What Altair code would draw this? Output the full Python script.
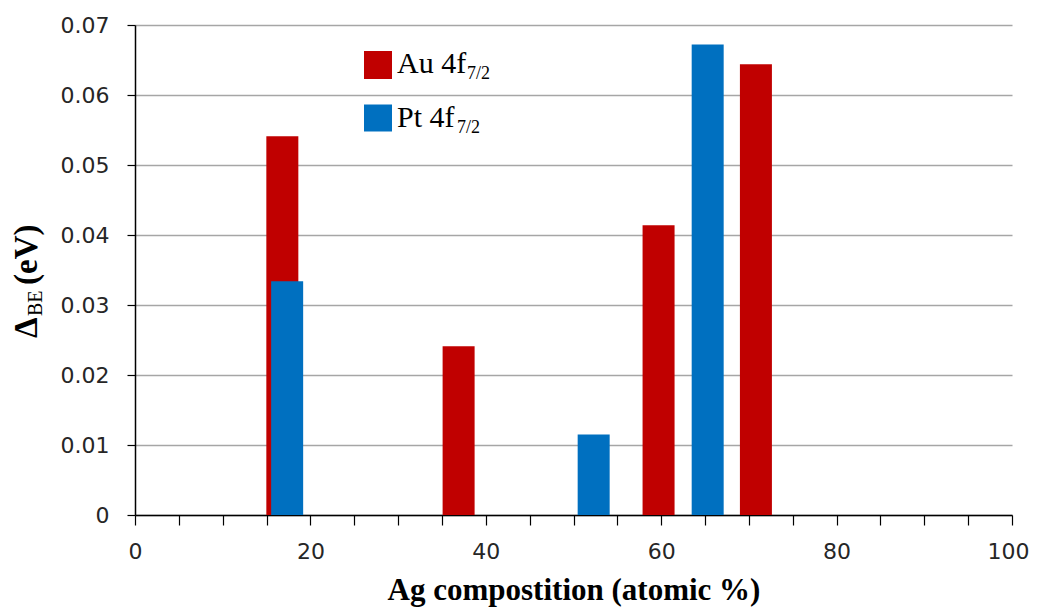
import altair as alt
import pandas as pd

# Data
au_x = [16.8, 36.9, 59.7, 70.8]
au_y = [0.0541, 0.0241, 0.0414, 0.0644]
pt_x = [17.35, 52.3, 65.3]
pt_y = [0.0334, 0.0115, 0.0672]
x_ticks = list(range(0, 101, 5))
y_ticks = [0, 0.01, 0.02, 0.03, 0.04, 0.05, 0.06, 0.07]

au = pd.DataFrame({"x": au_x, "y": au_y})
pt = pd.DataFrame({"x": pt_x, "y": pt_y})

RED = "#C00000"
BLUE = "#0070C0"

x_enc = alt.X(
    "x:Q",
    scale=alt.Scale(domain=[0, 100], nice=False, padding=0),
    axis=alt.Axis(
        values=x_ticks,
        labelExpr="datum.value % 20 == 0 ? datum.label : ''",
        labelFlush=False,
        labelOffset={"condition": {"test": "datum.value == 100", "value": -4}, "value": 0},
        grid=False,
        tickSize=10,
        tickWidth=1.2,
        tickColor="black",
        domainColor="black",
        domainWidth=1.5,
        labelFont="DejaVu Sans",
        labelFontSize=22,
        labelColor="#262626",
        labelPadding=16,
        title="Ag compostition (atomic %)",
        titleFont="Liberation Serif",
        titleFontSize=31,
        titleFontWeight="bold",
        titleColor="black",
        titlePadding=13,
    ),
)
y_enc = alt.Y(
    "y:Q",
    scale=alt.Scale(domain=[0, 0.07], nice=False, padding=0),
    axis=alt.Axis(
        values=y_ticks,
        labelExpr="datum.value == 0 ? '0' : format(datum.value, '.2f')",
        labelFlush=False,
        grid=True,
        gridColor="#a6a6a6",
        gridWidth=1.5,
        tickSize=8,
        tickWidth=1.2,
        tickColor="black",
        domainColor="black",
        domainWidth=1.5,
        labelFont="DejaVu Sans",
        labelFontSize=22,
        labelColor="#262626",
        labelPadding=18,
        title=None,
    ),
)

au_bars = alt.Chart(au).mark_bar(size=32, color=RED).encode(x=x_enc, y=y_enc)
pt_bars = alt.Chart(pt).mark_bar(size=32, color=BLUE).encode(x=x_enc, y=y_enc)

one = pd.DataFrame({"k": [0]})

def txt(text, x, y, size, weight="normal", angle=0):
    return alt.Chart(one).mark_text(
        text=text, align="left", baseline="alphabetic", font="Liberation Serif",
        fontSize=size, fontWeight=weight, color="black", angle=angle,
    ).encode(x=alt.value(x), y=alt.value(y))

def square(color, y0, y1):
    return alt.Chart(one).mark_rect(color=color).encode(
        x=alt.value(229), x2=alt.value(257), y=alt.value(y0), y2=alt.value(y1)
    )

legend = [
    square(RED, 26, 54),
    txt("Au 4f", 262, 48, 30),
    txt("7/2", 332, 54, 18),
    square(BLUE, 79.5, 106.5),
    txt("Pt 4f", 262, 102, 30),
    txt("7/2", 322, 108, 18),
]

ytitle = [
    txt("Δ", -98, 313, 33, "bold", 270),
    txt("BE", -93, 291, 20, "normal", 270),
    txt("(eV)", -98, 260, 33, "bold", 270),
]

chart = alt.layer(au_bars, pt_bars, *legend, *ytitle).properties(
    width=877,
    height=490,
    autosize=alt.AutoSizeParams(type="none"),
    padding={"left": 127, "top": 17, "right": 18, "bottom": 94},
).configure_view(stroke=None)

chart.save("out.html", embed_options={"renderer": "svg", "actions": False})
